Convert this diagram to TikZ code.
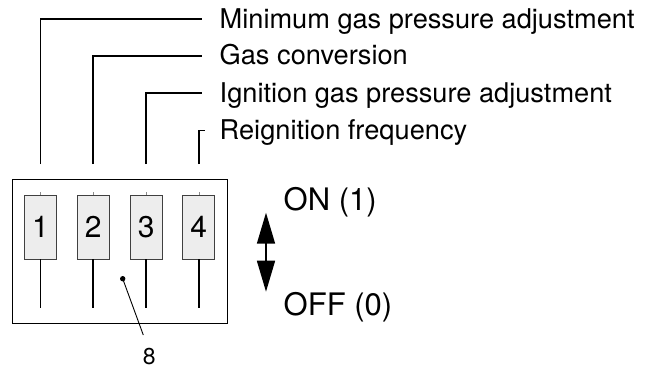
\documentclass[tikz,border=0pt]{standalone}
\usepackage{fontspec}
\setmainfont{TeX Gyre Heros}
\usetikzlibrary{arrows.meta}
\begin{document}
\begin{tikzpicture}[x=1bp,y=-1bp,
  lead/.style={line width=1.8bp},
  lbl/.style={anchor=base west, inner sep=0pt, font=\fontsize{27.2bp}{30bp}\selectfont},
  big/.style={anchor=base west, inner sep=0pt, font=\fontsize{31bp}{34bp}\selectfont},
  sw/.style={draw=black!75, fill=black!7, line width=0.8bp, minimum width=32bp, minimum height=64bp, inner sep=0pt, font=\fontsize{30bp}{32bp}\selectfont},
  tick/.style={draw=black!45, line width=0.6bp}
]
\useasboundingbox (0,0) rectangle (656,369);

% housing
\node[draw, line width=0.9bp, minimum width=215.4bp, minimum height=144bp, inner sep=0pt] (box) at (120,251.3) {};

% switches
\node[sw] (s1) at (40.5,227) {1};
\node[sw] (s2) at (93.2,227) {2};
\node[sw] (s3) at (146.2,227) {3};
\node[sw] (s4) at (198.8,227) {4};

\coordinate (bot) at (0,307.7);
\foreach \i in {1,2,3,4}{
  \draw[lead] (s\i.south) -- (s\i.south |- bot);
  \draw[tick] (s\i.north) -- ++(0,-3);
}

% leader lines and labels
\coordinate (b1) at (40.5,164);
\coordinate (b2) at (93.2,164);
\coordinate (b3) at (146.2,164);
\coordinate (b4) at (198.8,164);
\coordinate (e1) at (202,19);
\coordinate (e2) at (202,55.7);
\coordinate (e3) at (202,93.3);
\coordinate (e4) at (205,130.5);
\draw[lead] (b1) |- (e1);
\draw[lead] (b2) |- (e2);
\draw[lead] (b3) |- (e3);
\draw[lead] (b4) |- (e4);

\node[lbl] (t1) at (219.5,28) {Minimum gas pressure adjustment};
\node[lbl] (t2) at (219.5,64.7) {Gas conversion};
\node[lbl] (t3) at (219.5,102.3) {Ignition gas pressure adjustment};
\node[lbl] (t4) at (219.5,139.5) {Reignition frequency};

% ON/OFF arrow
\coordinate (aT) at (266,212.7);
\coordinate (aB) at (266,291.7);
\draw[line width=1.6bp, {Triangle[length=31bp,width=18bp]}-{Triangle[length=31bp,width=18bp]}] (aT) -- (aB);
\node[big] (on) at (283.5,210) {ON (1)};
\node[big] (off) at (283.5,315) {OFF (0)};

% item 8
\node[circle, fill, inner sep=0pt, minimum size=5.4bp] (dot) at (122.7,278.7) {};
\coordinate (e8) at (143.3,335);
\draw[line width=0.9bp] (dot.center) -- (e8);
\node[inner sep=0pt, font=\fontsize{23bp}{26bp}\selectfont] (n8) at (149.3,357) {8};
\end{tikzpicture}
\end{document}
